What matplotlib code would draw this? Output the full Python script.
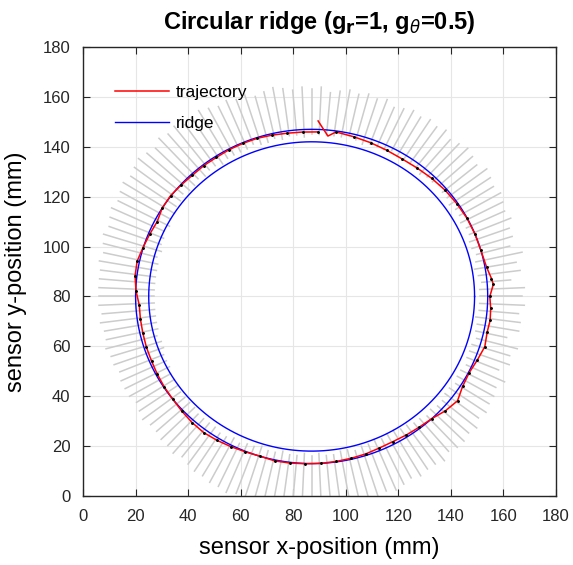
import numpy as np
import matplotlib
matplotlib.use("Agg")
import matplotlib.pyplot as plt

plt.rcParams['font.family'] = ['Liberation Sans', 'DejaVu Sans']

# ridge: two circles around the same centre (mm)
ridge_center = (87.0, 80.0)
ridge_radii = [67.0, 62.0]

# trajectory in polar form around the ridge centre (deg, mm)
traj_ang = [88, 84.5, 82, 76, 70, 64, 58, 52, 46, 40, 34, 28, 22, 16, 10, 6, 4, 0,
            -4, -8, -12, -17, -22, -27, -32, -37, -42, -47, -52, -57, -62, -67,
            -72, -77, -82, -87, -92, -97, -102, -107, -112, -117, -122, -127,
            -132, -137, -142, -147, -152, -157, -162, -167, -172, -177, -182,
            -187, -192, -197, -202, -207, -212, -217, -222, -227, -232, -237,
            -242, -247, -252, -257, -262, -267, -272]
traj_rad = [70.4, 64.6, 66.6, 66.0, 65.6, 65.2, 65.0, 65.3, 65.8, 66.3, 66.6, 66.9,
            67.0, 67.0, 67.6, 68.8, 69.3, 67.8, 68.3, 68.6, 68.3, 68.9, 68.0,
            67.3, 67.8, 69.5, 68.5, 67.0, 66.5, 66.2, 65.9, 66.0, 66.4, 66.6,
            66.8, 67.0, 67.1, 67.3, 67.4, 67.0, 67.2, 67.6, 68.0, 68.3, 68.0,
            67.5, 67.0, 66.8, 66.5, 66.2, 66.1, 65.9, 65.8, 65.7, 66.9, 67.7,
            67.9, 67.1, 66.5, 66.0, 67.0, 67.2, 66.8, 66.5, 66.6, 66.5, 66.7,
            66.7, 66.7, 66.4, 66.1, 66.0, 66.0]

# gray whiskers every 2.5 deg: inner and outer radius (mm)
gray_step = 2.5
gray_rin = [64, 64, 65, 64, 63, 64, 65, 64, 64, 65, 65, 64,
            65, 65, 64, 65, 65, 66, 65, 65, 64, 65, 65, 65,
            65, 66, 65, 65, 65, 64, 65, 66, 65, 65, 65, 65,
            65, 64, 65, 65, 64, 65, 64, 64, 65, 64, 64, 64,
            64, 63, 64, 64, 63, 64, 63, 63, 64, 63, 63, 62,
            62, 61, 62, 61, 61, 60, 61, 60, 60, 60, 60, 60,
            60, 60, 60, 60, 60, 60, 61, 60, 60, 61, 61, 61,
            62, 62, 62, 63, 63, 63, 63, 64, 64, 64, 64, 65,
            65, 64, 65, 64, 64, 63, 64, 64, 63, 64, 64, 63,
            64, 63, 64, 64, 63, 63, 64, 63, 63, 62, 63, 62,
            62, 63, 63, 64, 64, 65, 64, 65, 65, 64, 64, 65,
            64, 64, 65, 64, 64, 64, 65, 64, 64, 63, 64, 64]
gray_rout = [80, 81, 76, 80, 79, 82, 78, 80, 80, 82, 81, 82,
             83, 82, 83, 84, 82, 83, 84, 83, 82, 84, 83, 84,
             83, 84, 83, 82, 84, 83, 84, 83, 84, 83, 82, 84,
             83, 84, 83, 84, 85, 84, 83, 85, 84, 85, 84, 85,
             86, 85, 84, 86, 85, 86, 84, 85, 86, 85, 84, 85,
             84, 83, 84, 83, 82, 83, 82, 81, 82, 81, 81, 81,
             81, 81, 80, 81, 80, 80, 81, 80, 80, 79, 80, 80,
             80, 79, 80, 81, 80, 80, 81, 81, 82, 81, 82, 83,
             83, 84, 84, 85, 84, 85, 84, 85, 84, 84, 85, 84,
             84, 84, 85, 84, 84, 83, 84, 84, 83, 84, 83, 82,
             83, 82, 82, 83, 81, 82, 82, 81, 82, 80, 81, 80,
             80, 79, 81, 77, 80, 79, 81, 76, 80, 80, 79, 81]

cx, cy = ridge_center
fig = plt.figure(figsize=(5.73, 5.65), dpi=100, facecolor='white')
ax = fig.add_axes([0.1449, 0.1221, 0.8255, 0.7947])

# whiskers
for i, (r0, r1) in enumerate(zip(gray_rin, gray_rout)):
    t = np.deg2rad(i * gray_step)
    ax.plot([cx + r0 * np.cos(t), cx + r1 * np.cos(t)],
            [cy + r0 * np.sin(t), cy + r1 * np.sin(t)],
            color=(0.8, 0.8, 0.8), lw=1.1, zorder=1)

t = np.deg2rad(traj_ang)
tx = cx + np.array(traj_rad) * np.cos(t)
ty = cy + np.array(traj_rad) * np.sin(t)

# ridge circles
phi = np.linspace(0, 2 * np.pi, 400)
for i, r in enumerate(ridge_radii):
    ax.plot(cx + r * np.cos(phi), cy + r * np.sin(phi), color='blue', lw=1.0,
            zorder=2, label='ridge' if i == 0 else None)

ax.plot(tx, ty, color='red', lw=1.1, zorder=3, label='trajectory')
ax.plot(tx[2:], ty[2:], 'k.', ms=2.2, zorder=4)

ax.set_xlim(0, 180)
ax.set_ylim(0, 180)
ax.set_xticks(range(0, 181, 20))
ax.set_yticks(range(0, 181, 20))
ax.grid(True, color=(0.9, 0.9, 0.9), lw=0.8)
ax.set_axisbelow(True)
ax.tick_params(direction='in', length=5, top=True, right=True, labelsize=12,
               colors=(0.15, 0.15, 0.15), pad=9)
for s in ax.spines.values():
    s.set_color((0.15, 0.15, 0.15))
    s.set_linewidth(1.0)

ax.set_xlabel('sensor x-position (mm)', fontsize=17, labelpad=10)
ax.set_ylabel('sensor y-position (mm)', fontsize=17, labelpad=11)
ax.set_title(r'Circular ridge (g$_\mathbf{r}$=1, g$_\theta$=0.5)', fontsize=17,
             fontweight='bold', pad=13)

h, l = ax.get_legend_handles_labels()
order = [l.index('trajectory'), l.index('ridge')]
ax.legend([h[i] for i in order], [l[i] for i in order], loc='upper left',
          bbox_to_anchor=(0.035, 0.95), frameon=False, fontsize=12.5,
          handlelength=3.1, labelspacing=0.9, handletextpad=0.4)

fig.savefig('out.png', dpi=100, facecolor='white')
